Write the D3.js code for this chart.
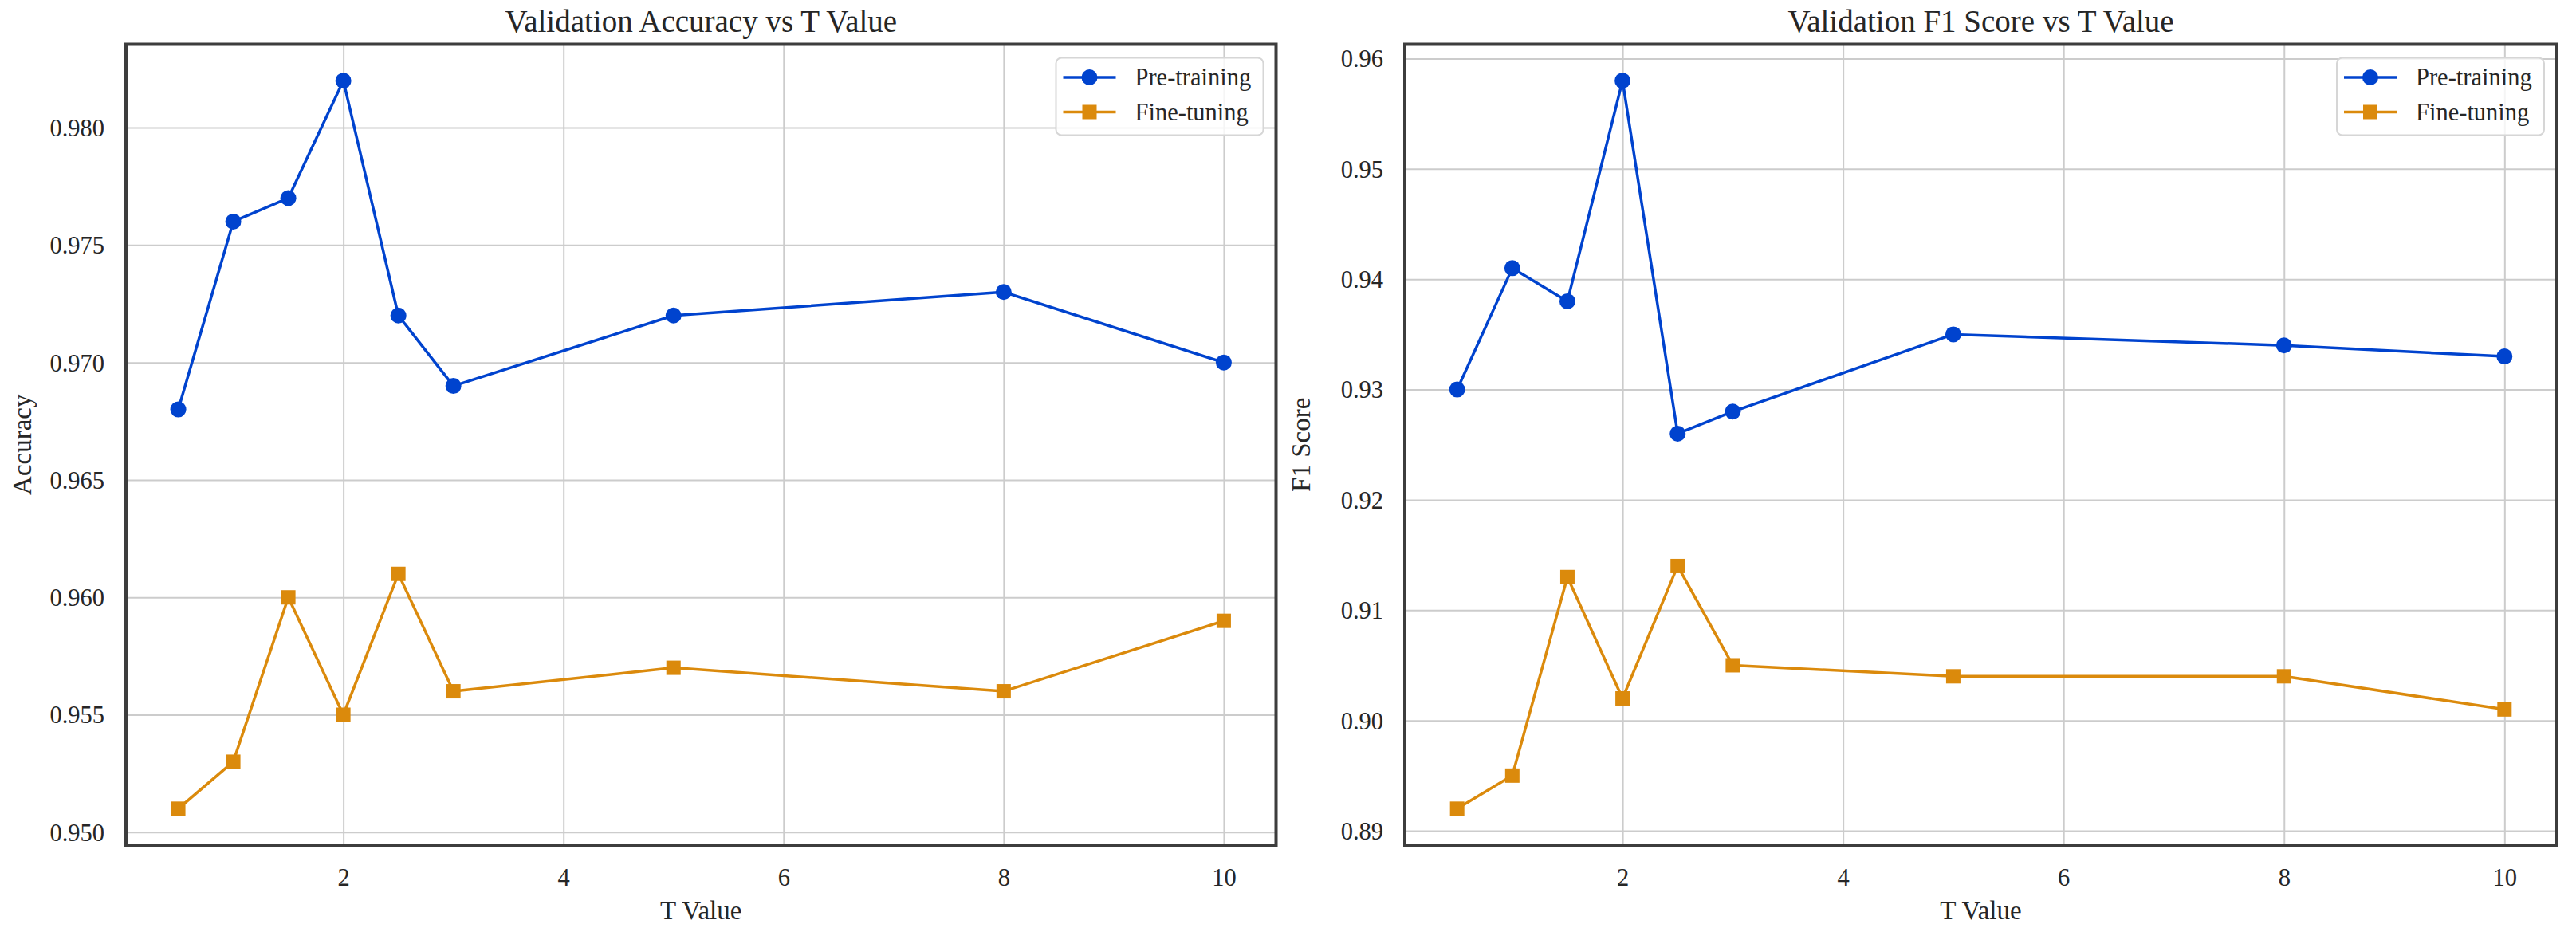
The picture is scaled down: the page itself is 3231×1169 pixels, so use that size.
<!DOCTYPE html>
<html>
<head>
<meta charset="utf-8">
<script src="https://cdn.jsdelivr.net/npm/d3@7"></script>
<style>
  body { margin: 0; background: #fff; }
  text { font-family: "Liberation Serif", "Times New Roman", serif; fill: #262626; }
</style>
</head>
<body>
<svg id="chart" width="3231" height="1169"></svg>
<script>
// data
var tValues = [0.5, 1, 1.5, 2, 2.5, 3, 5, 8, 10];
var accPre  = [0.968, 0.976, 0.977, 0.982, 0.972, 0.969, 0.972, 0.973, 0.970];
var accFine = [0.951, 0.953, 0.960, 0.955, 0.961, 0.956, 0.957, 0.956, 0.959];
var f1Pre   = [0.930, 0.941, 0.938, 0.958, 0.926, 0.928, 0.935, 0.934, 0.933];
var f1Fine  = [0.892, 0.895, 0.913, 0.902, 0.914, 0.905, 0.904, 0.904, 0.901];
var xTicks   = [2, 4, 6, 8, 10];
var accTicks = [0.950, 0.955, 0.960, 0.965, 0.970, 0.975, 0.980];
var f1Ticks  = [0.89, 0.90, 0.91, 0.92, 0.93, 0.94, 0.95, 0.96];
var seriesNames = ["Pre-training", "Fine-tuning"];

var blue = "#0043ce", orange = "#db8a0c";
var plotTop = 55.5, plotBottom = 1060;

var panels = [
  { title: "Validation Accuracy vs T Value", ylabel: "Accuracy", pre: accPre, fine: accFine,
    ticks: accTicks, fmt: d3.format(".3f"), left: 158, right: 1600.5 },
  { title: "Validation F1 Score vs T Value", ylabel: "F1 Score", pre: f1Pre, fine: f1Fine,
    ticks: f1Ticks, fmt: d3.format(".2f"), left: 1762, right: 3207 }
];

var svg = d3.select("#chart");
svg.append("rect").attr("width", 3231).attr("height", 1169).attr("fill", "#fff");

// matplotlib style 5% margins
function padded(ext) {
  var m = (ext[1] - ext[0]) * 0.05;
  return [ext[0] - m, ext[1] + m];
}

panels.forEach(function(p) {
  var g = svg.append("g");
  var x = d3.scaleLinear()
    .domain(padded(d3.extent(tValues)))
    .range([p.left, p.right]);
  var y = d3.scaleLinear()
    .domain(padded(d3.extent(p.pre.concat(p.fine))))
    .range([plotBottom, plotTop]);

  // vertical grid + x tick labels
  var xa = g.append("g")
    .attr("transform", "translate(0," + plotBottom + ")")
    .call(d3.axisBottom(x).tickValues(xTicks).tickSize(-(plotBottom - plotTop)).tickPadding(0).tickFormat(d3.format("d")));
  xa.select(".domain").remove();
  xa.selectAll("line").attr("stroke", "#cccccc").attr("stroke-width", 2);
  xa.selectAll("text").attr("y", 51).attr("dy", null)
    .style("font-size", "30.5px").style("font-family", "Liberation Serif").attr("fill", "#262626");

  // horizontal grid + y tick labels
  var ya = g.append("g")
    .attr("transform", "translate(" + p.left + ",0)")
    .call(d3.axisLeft(y).tickValues(p.ticks).tickSize(-(p.right - p.left)).tickPadding(0).tickFormat(p.fmt));
  ya.select(".domain").remove();
  ya.selectAll("line").attr("stroke", "#cccccc").attr("stroke-width", 2);
  ya.selectAll("text").attr("x", -27).attr("dy", "0.34em")
    .style("font-size", "30.5px").style("font-family", "Liberation Serif").attr("fill", "#262626");

  var line = d3.line()
    .x(function(d, i) { return x(tValues[i]); })
    .y(function(d) { return y(d); });

  // pre-training
  g.append("path").datum(p.pre)
    .attr("d", line).attr("fill", "none").attr("stroke", blue).attr("stroke-width", 3.5)
    .attr("stroke-linejoin", "round");
  g.selectAll(".dot").data(p.pre).enter().append("circle")
    .attr("class", "dot")
    .attr("cx", function(d, i) { return x(tValues[i]); })
    .attr("cy", function(d) { return y(d); })
    .attr("r", 10).attr("fill", blue);

  // fine-tuning
  g.append("path").datum(p.fine)
    .attr("d", line).attr("fill", "none").attr("stroke", orange).attr("stroke-width", 3.5)
    .attr("stroke-linejoin", "round");
  g.selectAll(".sq").data(p.fine).enter().append("rect")
    .attr("class", "sq")
    .attr("x", function(d, i) { return x(tValues[i]) - 9; })
    .attr("y", function(d) { return y(d) - 9; })
    .attr("width", 18).attr("height", 18).attr("fill", orange);

  // frame
  g.append("rect")
    .attr("x", p.left).attr("y", plotTop)
    .attr("width", p.right - p.left).attr("height", plotBottom - plotTop)
    .attr("fill", "none").attr("stroke", "#3d3d3d").attr("stroke-width", 4);

  // title and axis labels
  g.append("text")
    .attr("x", (p.left + p.right) / 2).attr("y", 40)
    .attr("text-anchor", "middle").style("font-size", "39px")
    .text(p.title);
  g.append("text")
    .attr("x", (p.left + p.right) / 2).attr("y", 1153)
    .attr("text-anchor", "middle").style("font-size", "33px")
    .text("T Value");
  g.append("text")
    .attr("transform", "translate(" + (p.left - 119) + "," + ((plotTop + plotBottom) / 2) + ") rotate(-90)")
    .attr("text-anchor", "middle").style("font-size", "33px")
    .text(p.ylabel);

  // legend
  var lx = p.right - 276, ly = plotTop + 17;
  var lg = g.append("g");
  lg.append("rect")
    .attr("x", lx).attr("y", ly).attr("width", 260).attr("height", 97)
    .attr("rx", 7).attr("fill", "#fff").attr("fill-opacity", 0.8)
    .attr("stroke", "#d6d6d6").attr("stroke-width", 2);
  var colors = [blue, orange];
  seriesNames.forEach(function(name, i) {
    var yy = ly + 24.5 + i * 43.5;
    lg.append("line")
      .attr("x1", lx + 9).attr("x2", lx + 75).attr("y1", yy).attr("y2", yy)
      .attr("stroke", colors[i]).attr("stroke-width", 3.5);
    if (i === 0) {
      lg.append("circle").attr("cx", lx + 42).attr("cy", yy).attr("r", 10).attr("fill", blue);
    } else {
      lg.append("rect").attr("x", lx + 33).attr("y", yy - 9).attr("width", 18).attr("height", 18).attr("fill", orange);
    }
    lg.append("text")
      .attr("x", lx + 99).attr("y", yy).attr("dy", "0.34em")
      .style("font-size", "30.5px")
      .text(name);
  });
});
</script>
</body>
</html>
